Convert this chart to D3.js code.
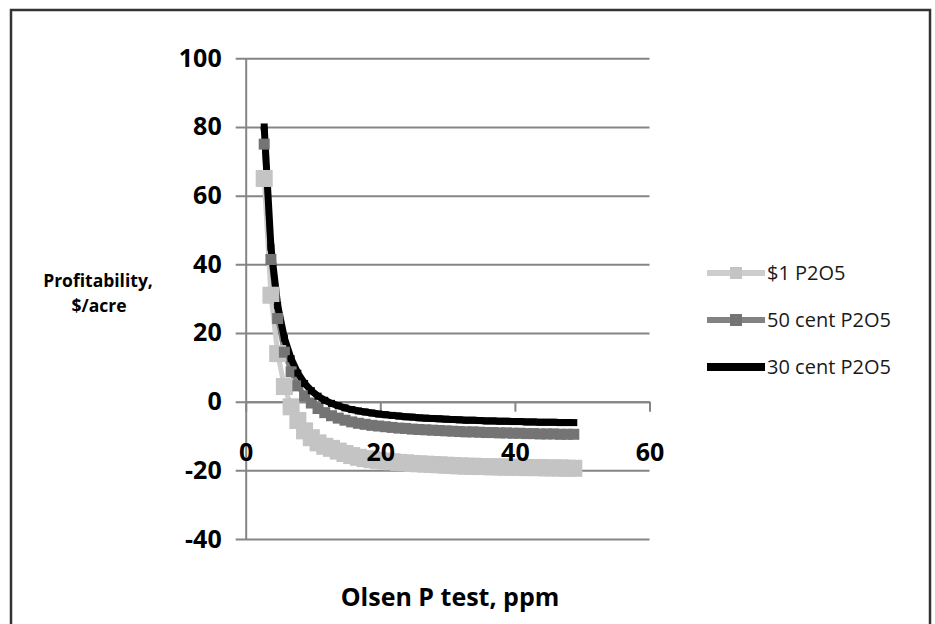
<!DOCTYPE html>
<html>
<head>
<meta charset="utf-8">
<script src="https://cdn.jsdelivr.net/npm/d3@7"></script>
<style>
  body { margin: 0; background: #fff; }
  text { font-family: "Open Sans", sans-serif; }
</style>
</head>
<body>
<svg width="935" height="624"></svg>
<script>
// Olsen P test values (ppm) for each plotted point
const olsenP = [2.75, 3.75, 4.75, 5.75, 6.75, 7.75, 8.75, 9.75, 10.75, 11.75,
  12.75, 13.75, 14.75, 15.75, 16.75, 17.75, 18.75, 19.75, 20.75, 21.75,
  22.75, 23.75, 24.75, 25.75, 26.75, 27.75, 28.75, 29.75, 30.75, 31.75,
  32.75, 33.75, 34.75, 35.75, 36.75, 37.75, 38.75, 39.75, 40.75, 41.75,
  42.75, 43.75, 44.75, 45.75, 46.75, 47.75, 48.75];

// profitability, $/acre
const dollar1 = [65, 31, 14, 4.4, -1.5, -5.5, -8.5, -10.5, -12.0, -13.0,
  -13.6, -14.4, -15.1, -15.7, -16.2, -16.6, -16.9, -17.1, -17.3, -17.5,
  -17.7, -17.8, -18.0, -18.1, -18.2, -18.3, -18.4, -18.5, -18.6, -18.7,
  -18.8, -18.8, -18.9, -18.9, -19.0, -19.0, -19.1, -19.1, -19.1, -19.2,
  -19.2, -19.2, -19.3, -19.3, -19.3, -19.4, -19.4];
const cent50 = [75, 41.4, 24.2, 14.4, 8.7, 4.6, 1.7, -0.4, -2.0, -3.2,
  -4.1, -4.8, -5.4, -5.9, -6.3, -6.6, -6.9, -7.1, -7.3, -7.5,
  -7.7, -7.8, -8.0, -8.1, -8.2, -8.3, -8.4, -8.5, -8.6, -8.7,
  -8.8, -8.8, -8.9, -9.0, -9.0, -9.1, -9.1, -9.2, -9.2, -9.3,
  -9.3, -9.4, -9.4, -9.4, -9.5, -9.5, -9.5];
const cent30 = [80, 45, 28, 18.5, 12.5, 8.3, 5.3, 3.2, 1.6, 0.4,
  -0.5, -1.2, -1.8, -2.3, -2.7, -3.0, -3.3, -3.6, -3.8, -4.0,
  -4.2, -4.4, -4.5, -4.7, -4.8, -4.9, -5.0, -5.1, -5.2, -5.3,
  -5.4, -5.4, -5.5, -5.6, -5.6, -5.7, -5.7, -5.8, -5.8, -5.9,
  -5.9, -6.0, -6.0, -6.0, -6.1, -6.1, -6.1];

const seriesNames = ["$1 P2O5", "50 cent P2O5", "30 cent P2O5"];
const xTicks = [0, 20, 40, 60];
const yTicks = [-40, -20, 0, 20, 40, 60, 80, 100];

const series = [
  { name: seriesNames[0], values: dollar1, line: "#cdcdcd", marker: "#c4c4c4", lw: 5, ms: 17 },
  { name: seriesNames[1], values: cent50, line: "#828282", marker: "#747474", lw: 5, ms: 11 },
  { name: seriesNames[2], values: cent30, line: "#000", marker: "#000", lw: 7, ms: 7 }
];

const svg = d3.select("svg");

// outer frame
svg.append("rect")
  .attr("x", 11).attr("y", 10)
  .attr("width", 919).attr("height", 640)
  .attr("fill", "none").attr("stroke", "#333").attr("stroke-width", 2.5);

const x = d3.scaleLinear().domain([0, 60]).range([245.7, 649.5]);
const y = d3.scaleLinear().domain([-40, 100]).range([539, 58.3]);

// plain hyphen for negatives, like the original
const fmt = d => String(d);

// horizontal gridlines with y axis
const yAxis = svg.append("g")
  .attr("transform", "translate(" + x(0) + ",0)")
  .call(d3.axisLeft(y).tickValues(yTicks).tickFormat(fmt)
    .tickSize(-(x(60) - x(0))).tickSizeOuter(0));
yAxis.select(".domain").attr("stroke", "#858585").attr("stroke-width", 2);
yAxis.selectAll(".tick line")
  .attr("x1", -10)
  .attr("stroke", "#858585").attr("stroke-width", 2);
yAxis.selectAll(".tick text")
  .attr("x", -24)
  .attr("fill", "#000")
  .style("font-size", "25px").style("font-weight", "bold");

// x axis sits at y = 0
const xAxis = svg.append("g")
  .attr("transform", "translate(0," + y(0) + ")")
  .call(d3.axisBottom(x).tickValues(xTicks).tickFormat(fmt).tickSize(10).tickSizeOuter(0));
xAxis.select(".domain").attr("stroke", "#858585").attr("stroke-width", 2);
xAxis.selectAll(".tick line").attr("stroke", "#858585").attr("stroke-width", 2);
xAxis.selectAll(".tick text").remove();

const line = d3.line()
  .x((d, i) => x(olsenP[i]))
  .y(d => y(d));

// lines first, markers over all of them
svg.append("g").selectAll("path")
  .data(series)
  .enter()
  .append("path")
  .attr("d", s => line(s.values))
  .attr("fill", "none")
  .attr("stroke", s => s.line)
  .attr("stroke-width", s => s.lw)
  .attr("stroke-linejoin", "round");

series.forEach(s => {
  svg.append("g").selectAll("rect")
    .data(s.values)
    .enter()
    .append("rect")
    .attr("x", (d, i) => x(olsenP[i]) - s.ms / 2)
    .attr("y", d => y(d) - s.ms / 2)
    .attr("width", s.ms)
    .attr("height", s.ms)
    .attr("fill", s.marker);
});

// x tick labels are drawn over the series
svg.append("g")
  .attr("transform", "translate(0," + y(0) + ")")
  .call(d3.axisBottom(x).tickValues(xTicks).tickFormat(fmt).tickSize(0).tickPadding(0))
  .call(g => g.select(".domain").remove())
  .selectAll(".tick text")
  .attr("y", 51).attr("dy", "0.35em")
  .attr("fill", "#000")
  .style("font-size", "25px").style("font-weight", "bold");

// legend
const legendY = [273, 320, 367];
const leg = svg.append("g");
series.forEach((s, i) => {
  leg.append("line")
    .attr("x1", 707).attr("x2", 765)
    .attr("y1", legendY[i]).attr("y2", legendY[i])
    .attr("stroke", s.line).attr("stroke-width", s.lw + 1);
  const m = i === 2 ? 8 : 12;
  leg.append("rect")
    .attr("x", 736 - m / 2).attr("y", legendY[i] - m / 2)
    .attr("width", m).attr("height", m)
    .attr("fill", s.marker);
  leg.append("text")
    .attr("x", 767).attr("y", legendY[i])
    .attr("dy", "0.35em")
    .attr("fill", "#1a1a1a")
    .style("font-size", "20px")
    .text(s.name);
});

// axis titles
svg.append("text")
  .attr("x", 98).attr("y", 281)
  .attr("text-anchor", "middle").attr("dy", "0.35em")
  .style("font-size", "17.5px").style("font-weight", "bold")
  .text("Profitability,");
svg.append("text")
  .attr("x", 99).attr("y", 306)
  .attr("text-anchor", "middle").attr("dy", "0.35em")
  .style("font-size", "17.5px").style("font-weight", "bold")
  .text("$/acre");

svg.append("text")
  .attr("x", 450).attr("y", 597)
  .attr("text-anchor", "middle").attr("dy", "0.35em")
  .style("font-size", "25px").style("font-weight", "bold")
  .text("Olsen P test, ppm");
</script>
</body>
</html>
